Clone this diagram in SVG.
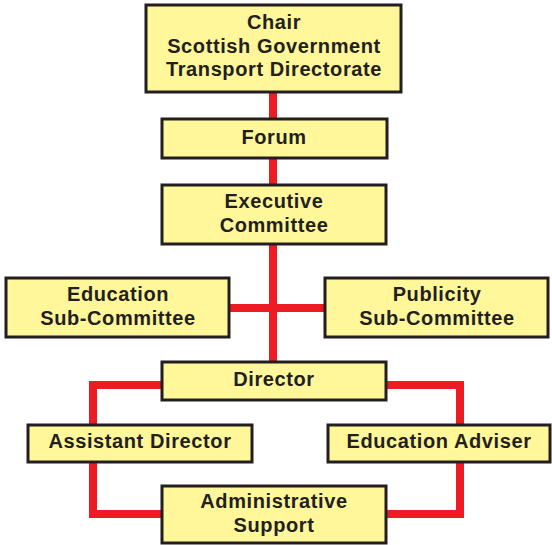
<svg xmlns="http://www.w3.org/2000/svg" width="552" height="545" viewBox="0 0 552 545">
<style>
.box{fill:#FFF799;stroke:#231F20;stroke-width:3}
.t{font-family:"Liberation Sans",Arial,sans-serif;font-weight:bold;font-size:20px;fill:#231F20;text-anchor:middle;letter-spacing:0.6px}
.c{fill:none;stroke:#ED1C24;stroke-width:8;stroke-linejoin:miter;stroke-linecap:butt}
</style>
<rect width="552" height="545" fill="#FFFFFF"/>
<g id="connectors">
<path class="c" d="M273,92 V362"/>
<path class="c" d="M229,308 H325"/>
<path class="c" d="M162,385 H93 V425"/>
<path class="c" d="M93,462 V514 H162"/>
<path class="c" d="M386,385 H460 V425"/>
<path class="c" d="M460,462 V514 H386"/>
</g>
<g id="chair">
<rect class="box" x="146" y="5" width="255" height="87"/>
<text class="t" x="274" y="29">Chair</text>
<text class="t" x="274" y="53">Scottish Government</text>
<text class="t" x="274" y="76">Transport Directorate</text>
</g>
<g id="forum">
<rect class="box" x="162" y="119" width="225" height="39"/>
<text class="t" x="274" y="144">Forum</text>
</g>
<g id="executive">
<rect class="box" x="162" y="185" width="224" height="59"/>
<text class="t" x="274" y="208">Executive</text>
<text class="t" x="274" y="232">Committee</text>
</g>
<g id="education-sub">
<rect class="box" x="6" y="278" width="223" height="59"/>
<text class="t" x="118" y="301">Education</text>
<text class="t" x="118" y="325">Sub-Committee</text>
</g>
<g id="publicity-sub">
<rect class="box" x="325" y="278" width="223" height="59"/>
<text class="t" x="437" y="301">Publicity</text>
<text class="t" x="437" y="325">Sub-Committee</text>
</g>
<g id="director">
<rect class="box" x="162" y="362" width="224" height="38"/>
<text class="t" x="274" y="386">Director</text>
</g>
<g id="assistant-director">
<rect class="box" x="28" y="425" width="224" height="37"/>
<text class="t" x="140" y="448">Assistant Director</text>
</g>
<g id="education-adviser">
<rect class="box" x="328" y="425" width="222" height="37"/>
<text class="t" x="439" y="448">Education Adviser</text>
</g>
<g id="admin-support">
<rect class="box" x="162" y="486" width="224" height="57"/>
<text class="t" x="274" y="508">Administrative</text>
<text class="t" x="274" y="532">Support</text>
</g>
</svg>
